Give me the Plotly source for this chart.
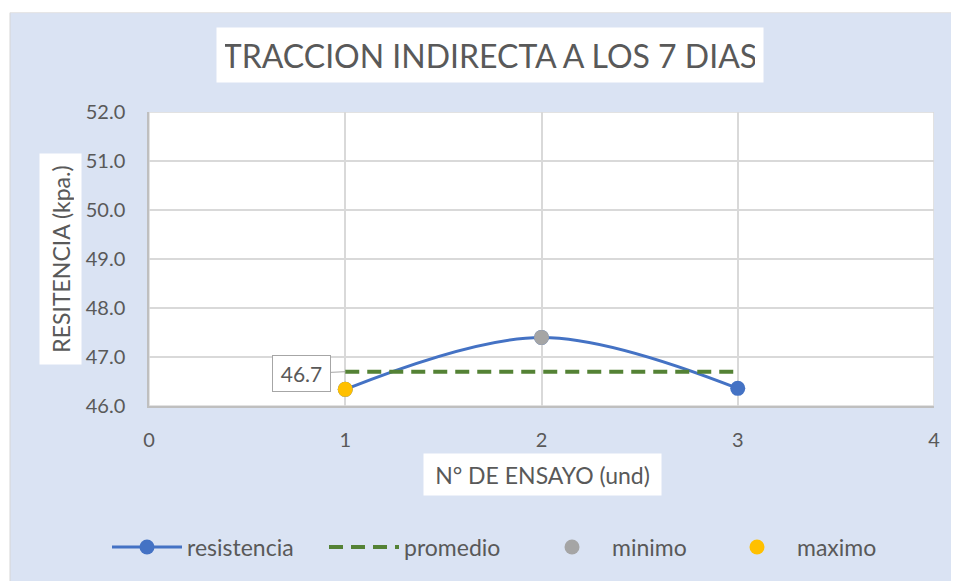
import plotly.graph_objects as go

# ---- data ----
ensayos = [1, 2, 3]
resistencia = [46.34, 47.40, 46.36]
promedio = [46.70, 46.70, 46.70]
minimo_x = [2]
minimo_y = [47.40]
maximo_x = [1]
maximo_y = [46.34]
label_promedio = "46.7"

title_text = "TRACCION INDIRECTA A LOS 7 DIAS"
ytitle = "RESITENCIA (kpa.)"
xtitle = "N° DE ENSAYO (und)"

# ---- layout geometry (page pixels; the page body adds an 8px offset) ----
OFF = 8
W, H = 959 - OFF, 581 - OFF
PL, PT, PR, PB = 149, 112, 934, 408          # plot area edges in page pixels
L, T = PL - OFF, PT - OFF
R, B = W - (PR - OFF), H - (PB - OFF)
PW = W - L - R
PH = H - T - B


def px(x):
    return (x - OFF - L) / PW


def py(y):
    return (H - B - (y - OFF)) / PH


FONT = "Lato, Carlito, Calibri, sans-serif"
GRAY = "#595959"
LEG_Y = py(550)

fig = go.Figure()

fig.add_trace(go.Scatter(
    x=ensayos, y=resistencia, name="resistencia", mode="lines+markers",
    line=dict(color="#4472c4", width=3, shape="spline", smoothing=1),
    marker=dict(color="#4472c4", size=15), legend="legend",
))
fig.add_trace(go.Scatter(
    x=ensayos, y=promedio, name="promedio", mode="lines",
    line=dict(color="#548235", width=4, dash="14px,8px"), legend="legend2",
))
fig.add_trace(go.Scatter(
    x=minimo_x, y=minimo_y, name="minimo", mode="markers",
    marker=dict(color="#a5a5a5", size=15), legend="legend3",
))
fig.add_trace(go.Scatter(
    x=maximo_x, y=maximo_y, name="maximo", mode="markers",
    marker=dict(color="#ffc000", size=15), legend="legend4",
))

shapes = [
    # white strips at the top and left of the page, with a faint edge line
    dict(type="rect", xref="paper", yref="paper", layer="below",
         x0=px(0), x1=px(970), y0=py(12), y1=py(-5),
         fillcolor="white", line=dict(width=0)),
    dict(type="rect", xref="paper", yref="paper", layer="below",
         x0=px(-5), x1=px(10), y0=py(600), y1=py(-5),
         fillcolor="white", line=dict(width=0)),
    dict(type="line", xref="paper", yref="paper", layer="below",
         x0=px(10), x1=px(10), y0=py(12), y1=py(600), line=dict(color="#d6d6d6", width=1)),
    dict(type="line", xref="paper", yref="paper", layer="below",
         x0=px(10), x1=px(970), y0=py(12), y1=py(12), line=dict(color="#e3e3e3", width=1)),
    # light frame of the plot area
    dict(type="rect", xref="x", yref="y", layer="below",
         x0=0, x1=4, y0=46, y1=52, line=dict(color="#d9d9d9", width=1.5)),
]

annotations = [
    dict(text=title_text, xref="paper", yref="paper", x=px(490), y=py(55),
         xanchor="center", yanchor="middle", showarrow=False,
         font=dict(family=FONT, size=32, color=GRAY),
         bgcolor="white", width=530, height=38, borderpad=8),
    dict(text=ytitle, xref="paper", yref="paper", x=px(60), y=py(260),
         xanchor="center", yanchor="middle", showarrow=False, textangle=-90,
         font=dict(family=FONT, size=23, color=GRAY),
         bgcolor="white", width=196, height=27, borderpad=7),
    dict(text=xtitle, xref="paper", yref="paper", x=px(542), y=py(477),
         xanchor="center", yanchor="middle", showarrow=False,
         font=dict(family=FONT, size=23, color=GRAY),
         bgcolor="white", width=223, height=27, borderpad=7),
    dict(text=label_promedio, x=ensayos[0], y=promedio[0], xref="x", yref="y",
         showarrow=True, arrowhead=0, arrowwidth=1, arrowcolor="#a6a6a6",
         ax=-44, ay=2, standoff=0,
         font=dict(family=FONT, size=21, color=GRAY),
         bgcolor="white", bordercolor="#a6a6a6", borderwidth=1,
         width=55, height=33, borderpad=1),
]


def leg(xpage):
    return dict(orientation="h", x=px(xpage), xanchor="left", y=LEG_Y, yanchor="middle",
                bgcolor="rgba(0,0,0,0)", font=dict(family=FONT, size=23, color=GRAY),
                itemwidth=70)


fig.update_layout(
    width=W, height=H,
    margin=dict(l=L, r=R, t=T, b=B),
    paper_bgcolor="#dae3f3", plot_bgcolor="white",
    font=dict(family=FONT, color=GRAY, size=20),
    shapes=shapes, annotations=annotations,
    showlegend=True,
    legend=leg(107), legend2=leg(324), legend3=leg(532), legend4=leg(717),
)

fig.update_xaxes(range=[0, 4], dtick=1, tick0=0, showgrid=True, gridcolor="#d9d9d9", gridwidth=1.5,
                 zeroline=False, showline=True, linecolor="#bfbfbf", linewidth=1.5,
                 ticks="outside", ticklen=15, tickcolor="rgba(0,0,0,0)",
                 tickfont=dict(family=FONT, size=20, color=GRAY))
fig.update_yaxes(range=[46, 52], dtick=1, tick0=46, tickformat=".1f", showgrid=True,
                 gridcolor="#d9d9d9", gridwidth=1.5,
                 zeroline=False, showline=True, linecolor="#bfbfbf", linewidth=1.5,
                 ticks="outside", ticklen=18, tickcolor="rgba(0,0,0,0)",
                 tickfont=dict(family=FONT, size=20, color=GRAY))

fig.write_html("out.html")
